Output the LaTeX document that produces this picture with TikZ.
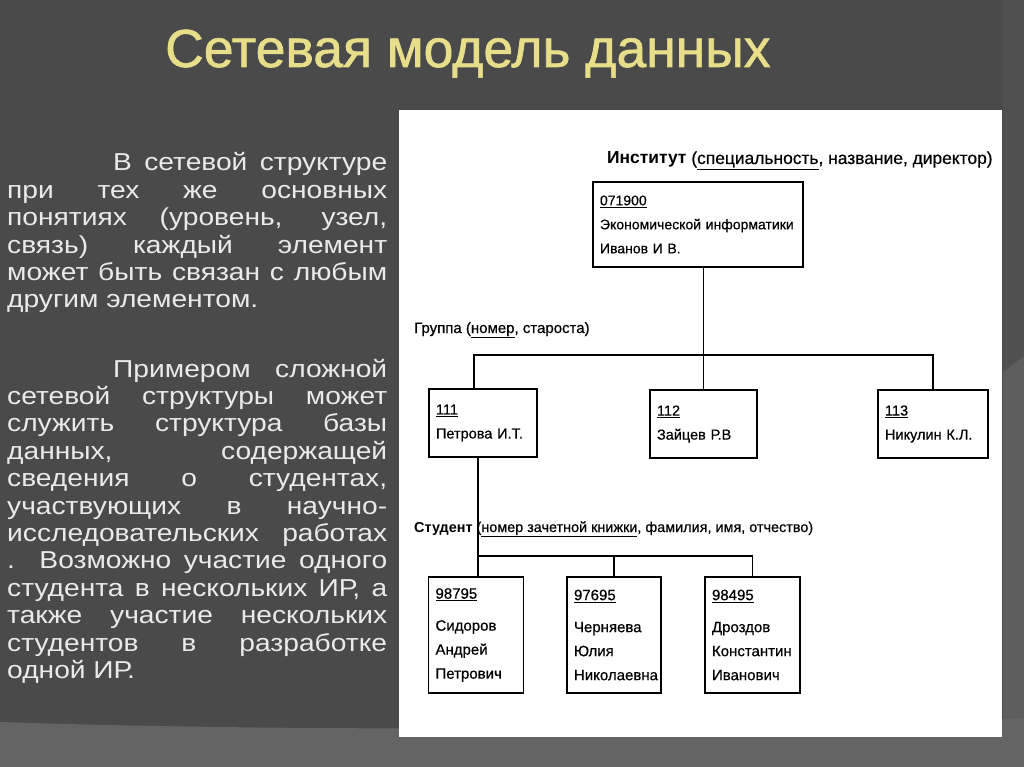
\documentclass[tikz,border=0pt]{standalone}
\usepackage{fontspec}
\setmainfont{Liberation Sans}
\newfontfamily\bodyfont[FakeStretch=1.15]{Liberation Sans}
\newfontfamily\titlefont[FakeBold=1.2]{Liberation Sans}
\newfontfamily\diagfont[FakeBold=0.5]{Liberation Sans}
\definecolor{bgmain}{HTML}{4A4A4A}
\definecolor{bgband}{HTML}{646464}
\definecolor{bgstrip}{HTML}{505050}
\definecolor{bgstriplow}{HTML}{5E5E5E}
\definecolor{bodytext}{HTML}{EAEAEA}
\definecolor{tyel}{HTML}{E8DE8A}
\begin{document}
\begin{tikzpicture}[x=1pt,y=-1pt,
  box/.style={draw=black, line width=1.5pt, fill=white, inner xsep=7pt, inner ysep=0pt, align=left, anchor=center, text=black},
  conn/.style={draw=black, line width=1.3pt},
  lbl/.style={anchor=base west, inner sep=0pt, text=black},
  para/.style={anchor=base west, inner sep=0pt, text width=380pt, align=justify, text=bodytext,
    font=\bodyfont\fontsize{24.5}{27.4}\selectfont}]
% background
\useasboundingbox (0,0) rectangle (1024,767);
\fill[bgmain] (0,0) rectangle (1024,767);
\fill[bgstrip] (1003,0) rectangle (1024,767);
\fill[bgstriplow] (1003,372) -- (1024,356) -- (1024,767) -- (1003,767) -- cycle;
\fill[bgband] (0,722) .. controls (300,732) and (700,730) .. (1024,718) -- (1024,767) -- (0,767) -- cycle;
% panel
\fill[white] (399,110) rectangle (1002,737);
% title
\node[anchor=base west, inner sep=0pt, text=tyel, font=\titlefont\fontsize{53.5}{60}\selectfont] (title) at (165,67) {Сетевая модель данных};
% left text
\node[para] (p1) at (7,171) {\tolerance=10000\hbadness=10000\hyphenpenalty=10000
\hspace*{106pt}В сетевой структуре\linebreak
при тех же основных\linebreak
понятиях (уровень, узел,\linebreak
связь) каждый элемент\linebreak
может быть связан с любым\linebreak
другим элементом.};
\node[para] (p2) at (7,377) {\tolerance=10000\hbadness=10000\hyphenpenalty=10000
\hspace*{106pt}Примером сложной\linebreak
сетевой структуры может\linebreak
служить структура базы\linebreak
данных, содержащей\linebreak
сведения о студентах,\linebreak
участвующих в научно-\linebreak
исследовательских работах\linebreak
. Возможно участие одного\linebreak
студента в нескольких ИР, а\linebreak
также участие нескольких\linebreak
студентов в разработке\linebreak
одной ИР.};
% diagram boxes
\node[box, text width=196pt, minimum height=85pt, font=\diagfont\fontsize{14}{24}\selectfont] (inst) at (698,224.5)
  {\underline{071900}\\Экономической информатики\\Иванов И В.};
\node[box, text width=94pt, minimum height=68pt, font=\diagfont\fontsize{14.5}{24}\selectfont] (g111) at (483,423)
  {\underline{111}\\Петрова И.Т.};
\node[box, text width=93pt, minimum height=68pt, font=\diagfont\fontsize{14.5}{24}\selectfont] (g112) at (703.5,424)
  {\underline{112}\\Зайцев Р.В};
\node[box, text width=96pt, minimum height=68pt, font=\diagfont\fontsize{14.5}{24}\selectfont] (g113) at (933,424)
  {\underline{113}\\Никулин К.Л.};
\node[box, text width=81pt, minimum height=116pt, font=\diagfont\fontsize{15}{24}\selectfont] (s1) at (476,635)
  {\underline{98795}\\[8pt]Сидоров\\Андрей\\Петрович};
\node[box, text width=80pt, minimum height=116pt, font=\diagfont\fontsize{15}{24}\selectfont] (s2) at (614,635)
  {\underline{97695}\\[8pt]Черняева\\Юлия\\Николаевна};
\node[box, text width=81pt, minimum height=116pt, font=\diagfont\fontsize{15}{24}\selectfont] (s3) at (752.5,635)
  {\underline{98495}\\[8pt]Дроздов\\Константин\\Иванович};
% connectors
\coordinate (j1) at (474,355);
\coordinate (k1) at (478,556);
\draw[conn] (g112.north |- inst.south) -- (g112.north);
\draw[conn] (j1 |- g111.north) -- (j1) -- (g113.north |- j1) -- (g113.north);
\draw[conn] (k1 |- g111.south) -- (k1 |- s1.north);
\draw[conn] (k1) -- (s3.north |- k1) -- (s3.north);
\draw[conn] (s2.north |- k1) -- (s2.north);
% labels
\node[lbl, font=\fontsize{17.4}{20}\selectfont] (linst) at (607,164)
  {\textbf{Институт} {\diagfont(\underline{специальность}, название, директор)}};
\node[lbl, font=\diagfont\fontsize{15}{18}\selectfont] (lgrp) at (414,333)
  {Группа (\underline{номер}, староста)};
\node[lbl, font=\fontsize{14.4}{18}\selectfont] (lstud) at (414,532)
  {\textbf{Студент} {\diagfont(\underline{номер зачетной книжки}, фамилия, имя, отчество)}};
\end{tikzpicture}
\end{document}
